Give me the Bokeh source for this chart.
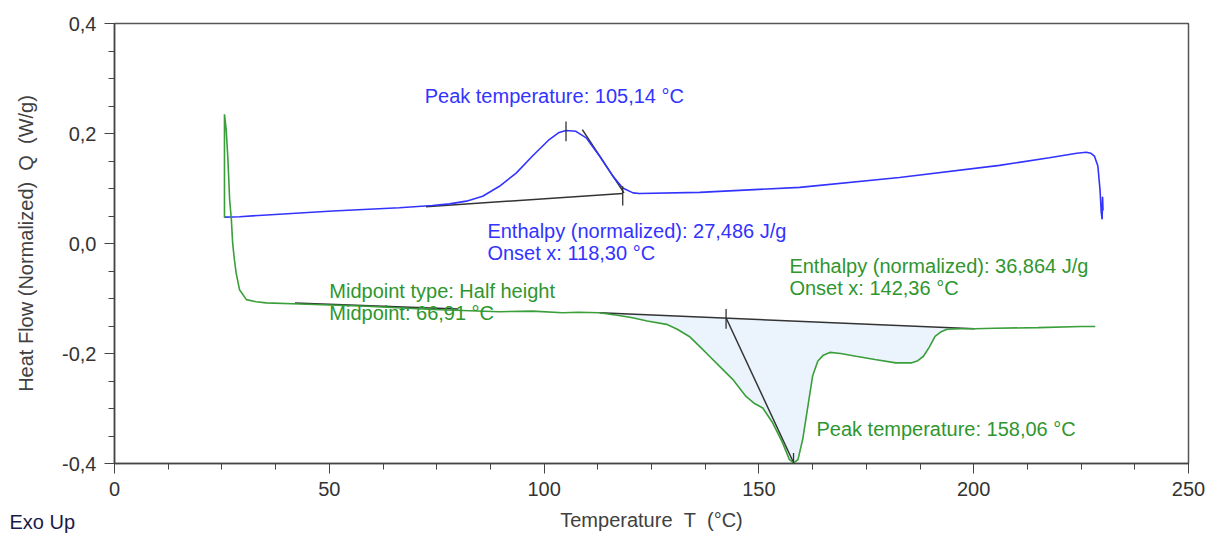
import numpy as np
from bokeh.plotting import figure
from bokeh.models import Range1d, FixedTicker, CustomJSTickFormatter, Label, Title
from bokeh.embed import file_html
from bokeh.resources import INLINE

# ---- data ----
blue_T = [25.6, 29.1, 34.5, 50.8, 66.3, 74.0, 78.0, 81.9, 85.7, 89.6, 93.5, 97.3, 101.2,
          103.5, 105.1, 107.4, 109.8, 112.9, 116.0, 118.3, 120.7, 122.2, 136.2, 159.5,
          182.7, 206.0, 217.6, 224.0, 226.2, 227.3, 228.1, 228.9, 229.4, 229.7, 229.9,
          230.0, 230.1]
blue_Q = [0.048, 0.0485, 0.0515, 0.059, 0.065, 0.069, 0.072, 0.077, 0.086, 0.104, 0.128,
          0.159, 0.189, 0.202, 0.2055, 0.204, 0.192, 0.159, 0.1225, 0.101, 0.092, 0.091,
          0.093, 0.102, 0.120, 0.142, 0.156, 0.164, 0.166, 0.164, 0.159, 0.141, 0.098,
          0.056, 0.044, 0.085, 0.060]

green_T = [25.6, 25.6, 26.0, 26.4, 26.8, 27.2, 27.5, 27.9, 28.3, 29.1, 30.7, 33.0, 35.3,
           43.1, 58.6, 74.0, 89.6, 97.3, 104.3, 108.0, 112.9, 117.4, 120.6, 124.0, 128.5,
           131.0, 133.8, 136.2, 138.5, 140.8, 143.9, 147.0, 149.0, 150.9, 153.2, 155.5,
           157.1, 158.1, 159.1, 160.2, 161.4, 162.5, 163.7, 165.0, 166.5, 169.0, 172.6,
           177.0, 181.9, 185.6, 187.0, 188.3, 189.7, 191.0, 192.3, 193.8, 197.0, 200.2,
           204.8, 215.0, 225.0, 228.3]
green_Q = [0.047, 0.235, 0.207, 0.153, 0.080, 0.044, 0.001, -0.029, -0.053, -0.084, -0.102,
           -0.106, -0.108, -0.110, -0.114, -0.120, -0.124, -0.123, -0.126, -0.125, -0.126,
           -0.131, -0.135, -0.141, -0.147, -0.156, -0.169, -0.187, -0.205, -0.223, -0.247,
           -0.278, -0.291, -0.299, -0.326, -0.362, -0.393, -0.399, -0.393, -0.356, -0.296,
           -0.241, -0.214, -0.203, -0.198, -0.200, -0.205, -0.211, -0.217, -0.217, -0.213,
           -0.205, -0.188, -0.169, -0.161, -0.156, -0.155, -0.155, -0.154, -0.153, -0.151,
           -0.151]

# evaluation lines
blue_base_T, blue_base_Q = [72.5, 118.3], [0.0667, 0.091]
blue_tan_T, blue_tan_Q = [108.9, 118.6], [0.207, 0.092]
blue_peak_T, blue_peak_Q = [105.1, 105.1], [0.186, 0.222]
blue_onset_T, blue_onset_Q = [118.3, 118.3], [0.069, 0.104]

green_base_T, green_base_Q = [112.9, 200.2], [-0.126, -0.155]
green_tan_T, green_tan_Q = [142.4, 158.1], [-0.136, -0.399]
green_peak_T, green_peak_Q = [158.06, 158.06], [-0.381, -0.402]
green_onset_T, green_onset_Q = [142.36, 142.36], [-0.119, -0.155]
glass_T, glass_Q = [42.0, 80.0], [-0.108, -0.119]

x_ticks = [0, 50, 100, 150, 200, 250]
x_minor = [12.5 * i for i in range(21)]
y_ticks = [-0.4, -0.2, 0.0, 0.2, 0.4]
y_minor = [-0.4 + 0.05 * i for i in range(17)]

BLUE = "#3333ff"
GREEN = "#3a9e3a"
GTEXT = "#2f962f"
FONT = "Liberation Sans"
AX = "#404040"
NB = "\u00a0"

p = figure(frame_width=1074, frame_height=440, x_range=Range1d(0, 250), y_range=Range1d(-0.4, 0.4),
           output_backend="svg", toolbar_location=None,
           min_border_left=114, min_border_top=23, min_border_right=20, min_border_bottom=75)
p.xgrid.visible = False
p.ygrid.visible = False
p.outline_line_color = "#555555"
p.outline_line_width = 1.5
p.background_fill_color = "white"
p.border_fill_color = "white"

for ax in (p.xaxis[0], p.yaxis[0]):
    ax.axis_line_color = "#444444"
    ax.axis_line_width = 1.5
    ax.major_tick_line_color = "#444444"
    ax.minor_tick_line_color = "#444444"
    ax.major_tick_in = 0
    ax.minor_tick_in = 0
    ax.major_tick_out = 10
    ax.minor_tick_out = 6
    ax.major_label_text_font = FONT
    ax.major_label_text_font_size = "20px"
    ax.major_label_text_color = "#333333"
    ax.major_label_standoff = 8
    ax.axis_label_text_font = FONT
    ax.axis_label_text_font_size = "20px"
    ax.axis_label_text_font_style = "normal"
    ax.axis_label_text_color = AX

p.xaxis[0].ticker = FixedTicker(ticks=x_ticks, minor_ticks=x_minor)
p.yaxis[0].ticker = FixedTicker(ticks=y_ticks, minor_ticks=y_minor)
p.yaxis[0].formatter = CustomJSTickFormatter(code="return tick.toFixed(1).replace('.', ',');")
p.xaxis[0].formatter = CustomJSTickFormatter(code="return tick.toFixed(0);")
p.yaxis[0].axis_label = "Heat Flow (Normalized)" + NB * 2 + "Q" + NB * 2 + "(W/g)"
p.yaxis[0].axis_label_standoff = 22
p.xaxis[0].axis_label = "Temperature" + NB * 2 + "T" + NB * 2 + "(°C)"
p.xaxis[0].axis_label_standoff = 10

# "Exo Up" note, placed in the bottom panel, pulled up beside the axis title
exo = Title(text="Exo Up", align="left", vertical_align="top", offset=-105, standoff=-46,
            text_font=FONT, text_font_size="20px", text_font_style="normal",
            text_color="#1a1a4a")
p.add_layout(exo, "below")

# filled peak area (curve section + baseline)
sel = [i for i, t in enumerate(green_T) if green_base_T[0] <= t <= green_base_T[1]]
fill_x = [green_T[i] for i in sel] + [green_base_T[1], green_base_T[0]]
fill_y = [green_Q[i] for i in sel] + [green_base_Q[1], green_base_Q[0]]
p.patch(fill_x, fill_y, fill_color="#ebf4fd", line_color=None)

LC = "#333333"
for xs, ys in [(blue_base_T, blue_base_Q), (blue_tan_T, blue_tan_Q), (green_base_T, green_base_Q),
               (green_tan_T, green_tan_Q), (glass_T, glass_Q)]:
    p.line(xs, ys, line_color=LC, line_width=1.5)

p.line(blue_T, blue_Q, line_color=BLUE, line_width=1.6)
p.line(green_T, green_Q, line_color=GREEN, line_width=1.6)

for xs, ys in [(blue_peak_T, blue_peak_Q), (blue_onset_T, blue_onset_Q),
               (green_peak_T, green_peak_Q), (green_onset_T, green_onset_Q)]:
    p.line(xs, ys, line_color=LC, line_width=1.3)


def lab(x, y, text, color):
    p.add_layout(Label(x=x, y=y, text=text, text_color=color, text_font=FONT,
                       text_font_size="20px", text_baseline="middle", text_align="left"))


lab(72.2, 0.269, "Peak temperature: 105,14 °C", BLUE)
lab(86.8, 0.0236, "Enthalpy (normalized): 27,486 J/g", BLUE)
lab(86.8, -0.0164, "Onset x: 118,30 °C", BLUE)
lab(157.1, -0.040, "Enthalpy (normalized): 36,864 J/g", GTEXT)
lab(157.1, -0.080, "Onset x: 142,36 °C", GTEXT)
lab(50.0, -0.0855, "Midpoint type: Half height", GTEXT)
lab(50.0, -0.1255, "Midpoint: 66,91 °C", GTEXT)
lab(163.4, -0.338, "Peak temperature: 158,06 °C", GTEXT)

open("out.html", "w").write(file_html(p, INLINE))
